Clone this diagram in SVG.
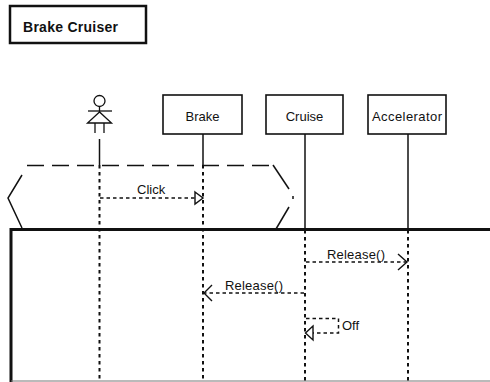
<svg xmlns="http://www.w3.org/2000/svg" width="490" height="382" viewBox="0 0 490 382">
<defs>
<style>
.box{fill:#fff;stroke:#111;stroke-width:1.6}
.lbl{font-family:"Liberation Sans",Arial,sans-serif;font-size:13px;fill:#111}
.solid{stroke:#111;stroke-width:1.5;fill:none}
.dot{stroke:#111;stroke-width:2;stroke-dasharray:3.5 3.5;fill:none}
.msg{stroke:#111;stroke-width:1.5;stroke-dasharray:3.5 3;fill:none}
.head{stroke:#111;stroke-width:1.3;fill:#fff}
.stick{stroke:#111;stroke-width:1.3;fill:none}
</style>
</defs>
<rect width="490" height="382" fill="#fff"/>
<g id="title">
<rect x="10" y="6" width="136" height="37" fill="#fff" stroke="#111" stroke-width="2.5"/>
<text x="23" y="32" font-family="'Liberation Sans',Arial,sans-serif" font-size="14" font-weight="bold" fill="#111" textLength="95">Brake Cruiser</text>
</g>
<g id="frame">
<path d="M 11 382 L 11 229.5 L 492 229.5" fill="none" stroke="#111" stroke-width="3"/>
<line x1="11" y1="381" x2="492" y2="381" stroke="#777" stroke-width="1.2"/>
</g>
<g id="fragment">
<path d="M 27 165.5 L 272 165.5" fill="none" stroke="#111" stroke-width="1.6" stroke-dasharray="17 8"/>
<path d="M 22 175 L 8 198 L 22 228" class="solid"/>
<path d="M 273 165 L 289 189" class="solid"/>
<line x1="293" y1="196" x2="293" y2="199" class="solid"/>
<path d="M 289 207 L 276 229" class="solid"/>
</g>
<g id="actor">
<circle cx="99.5" cy="101" r="5.5" class="head"/>
<line x1="99.5" y1="106.5" x2="99.5" y2="112" class="stick"/>
<line x1="88" y1="111" x2="112" y2="111" class="stick"/>
<path d="M 99.5 112 L 87.5 123 L 111.5 123 Z" class="stick"/>
<line x1="95" y1="123" x2="95" y2="133" class="stick"/>
<line x1="104" y1="123" x2="104" y2="133" class="stick"/>
<line x1="99.5" y1="139" x2="99.5" y2="165" class="solid"/>
<line x1="99.5" y1="165" x2="99.5" y2="382" class="dot"/>
</g>
<g id="brake">
<rect x="163" y="95" width="79" height="39" class="box"/>
<text x="202.5" y="121" text-anchor="middle" class="lbl">Brake</text>
<line x1="203" y1="134" x2="203" y2="165" class="solid"/>
<line x1="203" y1="165" x2="203" y2="382" class="dot"/>
</g>
<g id="cruise">
<rect x="266" y="95" width="77" height="39" class="box"/>
<text x="304.5" y="121" text-anchor="middle" class="lbl">Cruise</text>
<line x1="305" y1="134" x2="305" y2="230" class="solid"/>
<line x1="305" y1="230" x2="305" y2="382" class="dot"/>
</g>
<g id="accelerator">
<rect x="368" y="95" width="78" height="39" class="box"/>
<text x="407" y="121" text-anchor="middle" class="lbl" textLength="70">Accelerator</text>
<line x1="408" y1="134" x2="408" y2="230" class="solid"/>
<line x1="408" y1="230" x2="408" y2="382" class="dot"/>
</g>
<g id="connectors">
<line x1="100" y1="198" x2="195" y2="198" class="msg"/>
<path d="M 195 192 L 203 198 L 195 204 Z" fill="#fff" stroke="#111" stroke-width="1.4"/>
<text x="137" y="194" class="lbl">Click</text>
<line x1="306" y1="262" x2="407" y2="262" class="msg"/>
<path d="M 398 254 L 407 262 L 398 270" fill="none" stroke="#111" stroke-width="1.4"/>
<text x="327" y="259" class="lbl" textLength="58">Release()</text>
<line x1="304" y1="293" x2="204" y2="293" class="msg"/>
<path d="M 212 285 L 204 293 L 212 301" fill="none" stroke="#111" stroke-width="1.4"/>
<text x="225" y="290" class="lbl" textLength="58">Release()</text>
<path d="M 306 318.5 L 338.5 318.5 L 338.5 333 L 313 333" class="msg"/>
<path d="M 313 326 L 305.5 333 L 313 340 Z" fill="#fff" stroke="#111" stroke-width="1.4"/>
<text x="342" y="330" class="lbl">Off</text>
</g>
</svg>
